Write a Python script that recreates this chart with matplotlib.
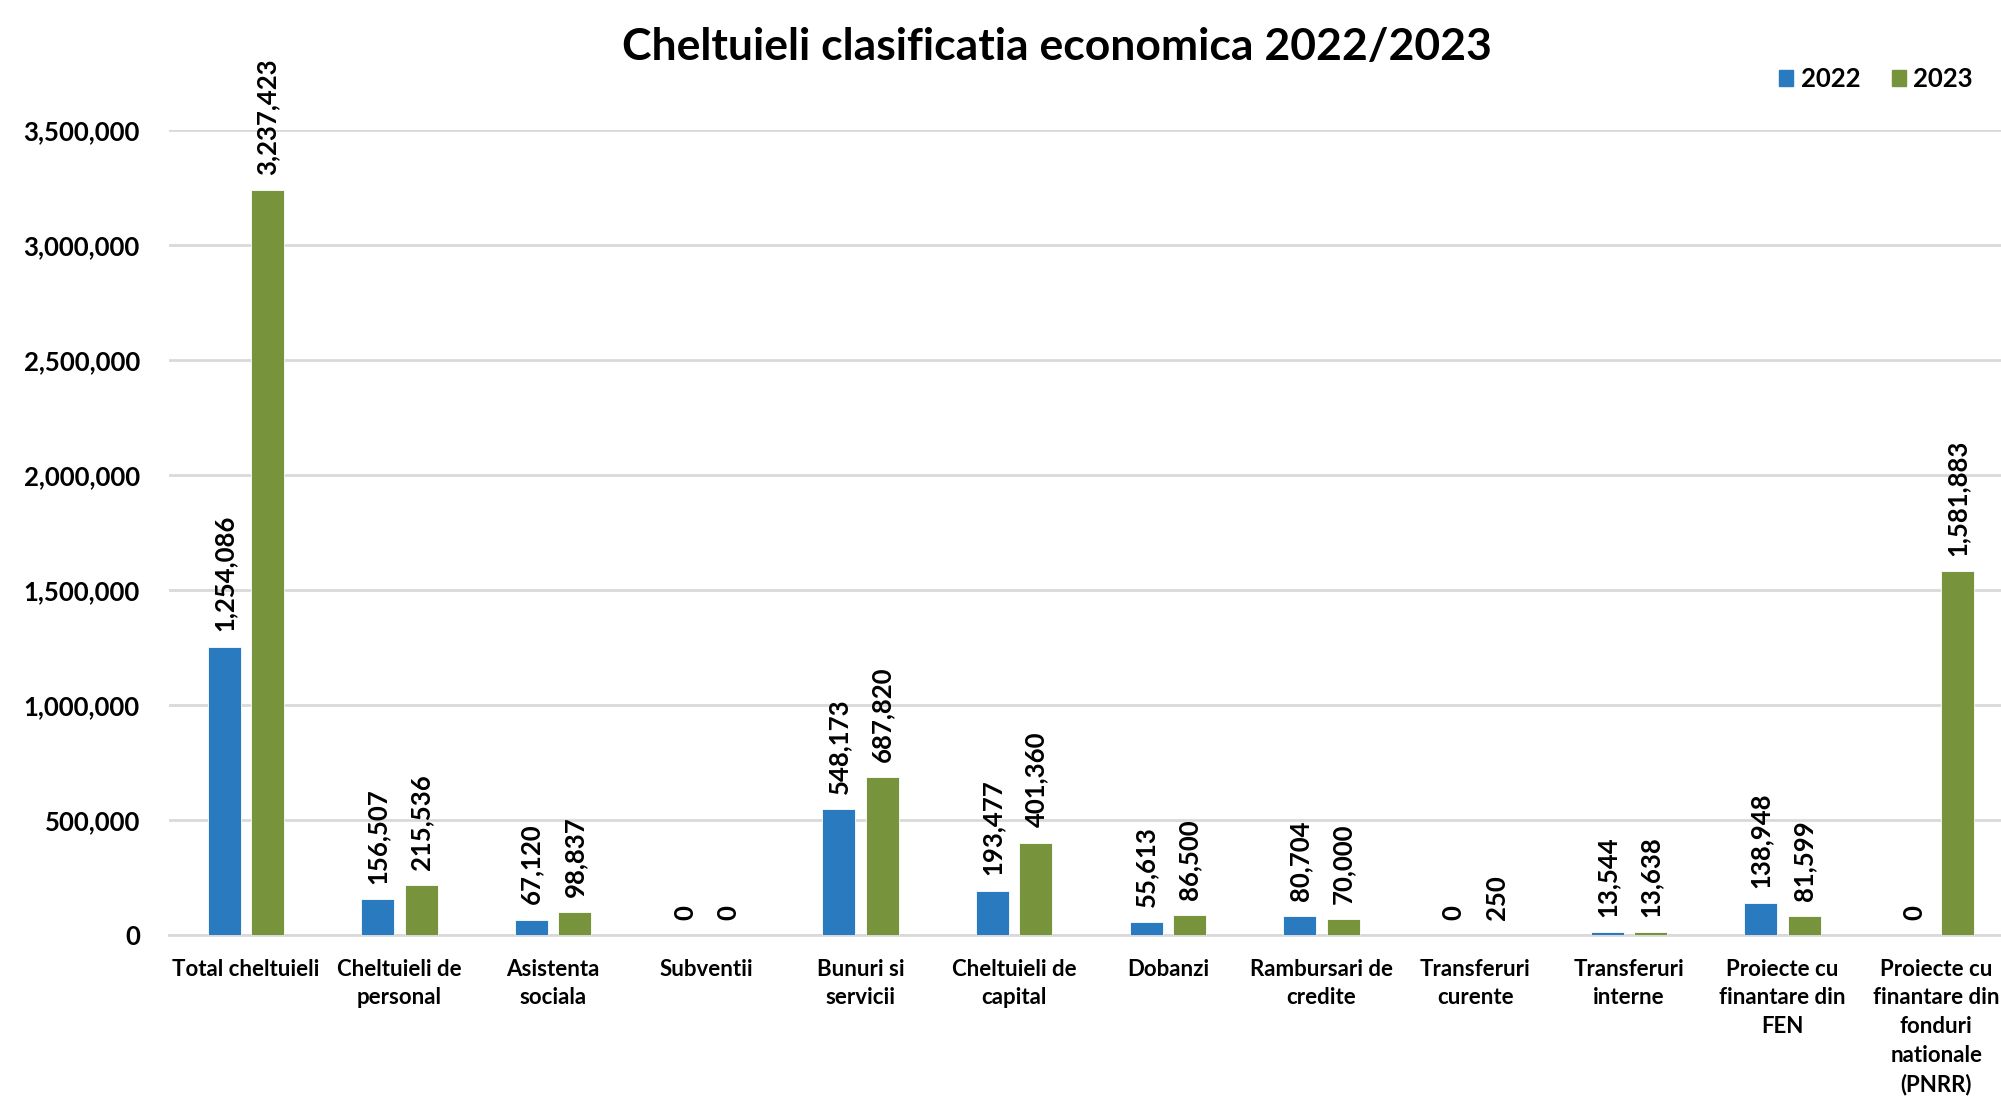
import matplotlib.pyplot as plt
import matplotlib.patches as Patches
from matplotlib.ticker import FuncFormatter

# Date
categorii = [
    "Total cheltuieli",
    "Cheltuieli de\npersonal",
    "Asistenta\nsociala",
    "Subventii",
    "Bunuri si\nservicii",
    "Cheltuieli de\ncapital",
    "Dobanzi",
    "Rambursari de\ncredite",
    "Transferuri\ncurente",
    "Transferuri\ninterne",
    "Proiecte cu\nfinantare din\nFEN",
    "Proiecte cu\nfinantare din\nfonduri\nnationale\n(PNRR)",
]
val_2022 = [1254086, 156507, 67120, 0, 548173, 193477, 55613, 80704, 0, 13544, 138948, 0]
val_2023 = [3237423, 215536, 98837, 0, 687820, 401360, 86500, 70000, 250, 13638, 81599, 1581883]
ani = ["2022", "2023"]
y_ticks = [0, 500000, 1000000, 1500000, 2000000, 2500000, 3000000, 3500000]

culori = ["#2A7AC0", "#77933C"]
titlu = "Cheltuieli clasificatia economica 2022/2023"

plt.rcParams['font.family'] = ['Lato', 'DejaVu Sans']
plt.rcParams['font.weight'] = 'bold'

W, H = 2001, 1097
fig = plt.figure(figsize=(W / 100, H / 100), dpi=100)

# pozitia axelor (in pixeli din referinta)
left_px, right_px = 169, 2013
bottom_px, top_px = 935, 130
ax = fig.add_axes([left_px / W, 1 - bottom_px / H, (right_px - left_px) / W, (bottom_px - top_px) / H])

n = len(categorii)
x = list(range(n))
latime = 0.215
offset = 0.141

for serie, valori, culoare, dx in [(ani[0], val_2022, culori[0], -offset), (ani[1], val_2023, culori[1], offset)]:
    xs = [i + dx for i in x]
    ax.bar(xs, valori, width=latime, color=culoare, edgecolor='white', linewidth=0.6, zorder=3)
    for xi, v in zip(xs, valori):
        ax.annotate(f"{v:,}", (xi, v), textcoords="offset points", xytext=(0, 11),
                    ha='center', va='bottom', rotation=90, fontsize=18.5, fontweight='bold',
                    annotation_clip=False)

ax.set_xlim(-0.5, n - 0.5)
ax.set_ylim(0, 3500000)
ax.set_yticks(y_ticks)
ax.yaxis.set_major_formatter(FuncFormatter(lambda v, p: f"{int(v):,}"))
ax.set_xticks(x)
ax.set_xticklabels(categorii, fontsize=16, fontweight='bold', linespacing=1.45, va='top')

ax.tick_params(axis='both', length=0)
ax.tick_params(axis='y', labelsize=18.5, pad=21)
ax.tick_params(axis='x', pad=17)

ax.grid(axis='y', color='#D9D9D9', linewidth=2, zorder=0)
for s in ['top', 'right', 'left']:
    ax.spines[s].set_visible(False)
ax.spines['bottom'].set_color('#D9D9D9')
ax.spines['bottom'].set_linewidth(2)

fig.text(1057 / W, 1 - 47 / H, titlu, ha='center', va='center', fontsize=32, fontweight='bold')

handles = [Patches.Patch(color=c, label=a) for c, a in zip(culori, ani)]
fig.legend(handles=handles, loc='center right', bbox_to_anchor=(1973 / W, 1 - 79 / H), ncol=2,
           frameon=False, fontsize=18.5, handlelength=0.55, handleheight=0.55, handletextpad=0.3,
           columnspacing=1.2, borderpad=0, borderaxespad=0)

fig.savefig("out.png", dpi=100)
